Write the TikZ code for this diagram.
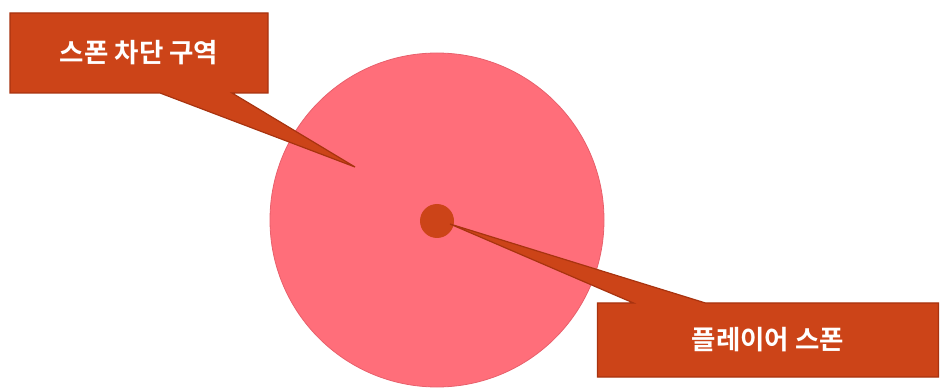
\documentclass[tikz,border=0pt]{standalone}
\usepackage{fontspec}
\usetikzlibrary{shapes.callouts}
\newfontfamily\krfont{Noto Sans CJK KR Bold}
\definecolor{rust}   {HTML}{CC4418}
\definecolor{rustDk} {HTML}{A8330F}
\definecolor{rose}   {HTML}{FF6E7A}
\definecolor{roseDk} {HTML}{E8606C}
\begin{document}
\begin{tikzpicture}[
  x=1pt, y=-1pt,
  tag/.style={rectangle callout, draw=rustDk, fill=rust, line width=1.2pt,
              inner sep=0pt, font=\krfont\fontsize{26.5}{30}\selectfont, text=white,
              callout pointer width=72pt},
  zone/.style={circle, draw=roseDk, fill=rose, line width=0.8pt, inner sep=0pt},
  spot/.style={circle, fill=rust, inner sep=0pt, minimum size=34pt}
]
\useasboundingbox (0,0) rectangle (943,390);
\node[zone, minimum size=334pt] (block) at (437,220) {};
\node[spot] (spawn) at (437,221) {};
\coordinate (tipA) at (355,167);
\coordinate (tipB) at (450,224);
\node[tag, minimum width=258pt, minimum height=80pt, callout absolute pointer=(tipA)]
  (blocklab) at (139,53) {스폰 차단 구역};
\node[tag, minimum width=341pt, minimum height=74pt, callout absolute pointer=(tipB)]
  (spawnlab) at (768,340) {플레이어 스폰};
\end{tikzpicture}
\end{document}
